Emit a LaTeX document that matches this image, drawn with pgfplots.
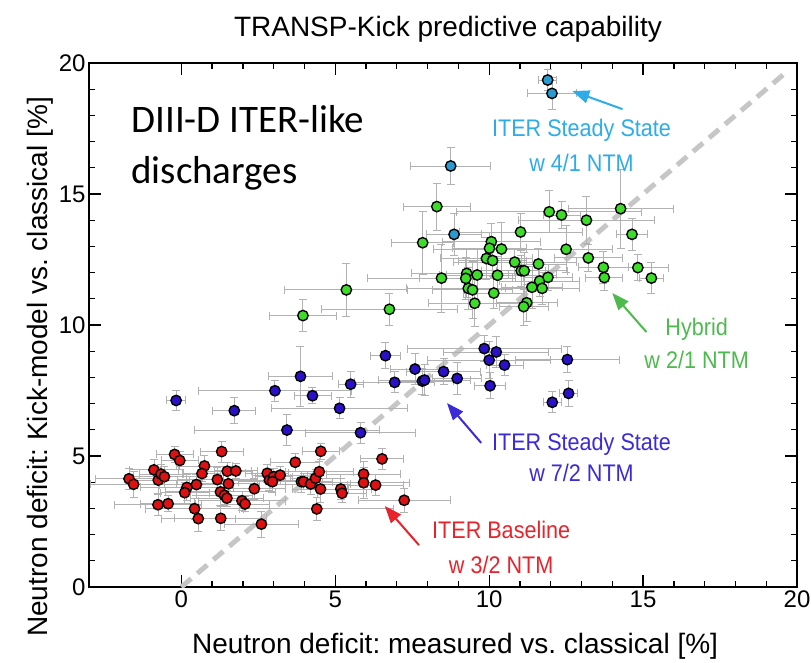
\documentclass[border=0pt]{standalone}
\usepackage{pgfplots}
\pgfplotsset{compat=1.18}
\usepackage{fontspec}
\setmainfont{Liberation Sans}
\newfontfamily\narrow[FakeStretch=0.9]{Liberation Sans}
\newfontfamily\calib{Carlito}
\usetikzlibrary{arrows.meta}

% point fills
\definecolor{ptred}{HTML}{DD1111}
\definecolor{ptblue}{HTML}{2A10C8}
\definecolor{ptgreen}{HTML}{3CDC28}
\definecolor{ptcyan}{HTML}{2A9BD0}
% annotation colours
\definecolor{txcyan}{HTML}{2EACE8}
\definecolor{txgreen}{HTML}{4DBA4D}
\definecolor{txblue}{HTML}{3A2AD8}
\definecolor{txred}{HTML}{E8232B}

\pgfplotsset{
  pts/.style={only marks, mark=*, mark size=5.2pt,
    mark options={draw=black, line width=1.4pt, fill=#1},
    error bars/.cd, x dir=both, x explicit, y dir=both, y explicit,
    error bar style={gray!60, line width=0.9pt},
    error mark options={rotate=90, gray!60, line width=0.9pt, mark size=4pt}},
}
\tikzset{annot/.style={font=\narrow\fontsize{24}{24}\selectfont, anchor=base}}

\pgfplotstableread{
x y ex ey
-1.70 4.13 1.1 0.4
-1.55 3.92 1.4 0.5
-0.89 4.47 0.8 0.4
-0.75 4.08 1.0 0.5
-0.66 4.31 0.7 0.35
-0.55 4.21 1.2 0.4
-0.76 3.14 1.4 0.4
-0.43 3.18 0.9 0.3
-0.22 5.06 0.6 0.3
-0.05 4.83 0.6 0.35
0.18 3.80 1.5 0.5
0.11 3.60 0.8 0.4
0.49 3.91 1.2 0.4
0.75 4.62 0.9 0.4
0.67 4.33 0.6 0.3
0.43 2.99 1.6 0.4
0.55 2.61 1.2 0.5
1.31 5.17 0.7 0.4
1.17 4.10 1.3 0.45
1.49 4.42 0.8 0.35
1.77 4.43 0.7 0.3
1.53 3.94 1.0 0.4
1.27 3.63 1.8 0.5
1.40 3.50 0.9 0.4
1.48 3.39 1.2 0.3
1.28 2.62 1.5 0.45
2.37 3.75 1.0 0.4
1.97 3.29 1.4 0.35
2.07 3.17 0.8 0.3
2.60 2.40 1.2 0.5
2.79 4.34 0.7 0.35
2.86 4.08 1.5 0.4
3.00 4.21 0.6 0.3
3.21 4.27 0.9 0.35
2.96 4.02 1.1 0.4
3.70 4.76 0.8 0.35
3.90 4.02 1.0 0.4
3.97 4.02 0.6 0.3
4.20 3.93 1.3 0.4
4.36 4.15 0.8 0.35
4.48 4.40 1.1 0.4
4.52 3.74 0.9 0.5
4.40 2.98 2.5 0.45
4.53 5.18 0.6 0.3
5.18 3.74 1.0 0.4
5.22 3.58 0.8 0.35
5.92 4.31 1.2 0.5
5.92 3.98 1.5 0.6
6.31 3.89 0.9 0.4
6.52 4.89 0.7 0.4
7.24 3.31 1.5 0.45
}\tblbase

\pgfplotstableread{
x y ex ey
-0.17 7.12 0.3 0.4
1.72 6.73 0.7 0.5
3.04 7.49 2.5 0.4
3.87 8.04 1.05 1.15
4.26 7.30 0.6 0.3
3.43 5.99 3.0 0.6
5.14 6.82 2.2 0.4
5.50 7.74 0.4 0.5
5.82 5.89 1.8 0.4
6.63 8.83 0.5 0.5
6.93 7.81 1.3 0.4
7.59 8.32 0.8 0.6
7.83 7.86 1.0 0.5
7.90 7.90 1.5 0.6
8.52 8.22 1.2 0.5
8.96 7.96 0.8 0.6
9.84 9.10 2.5 0.5
10.23 8.97 1.7 0.6
10.00 8.66 2.0 0.7
10.50 8.47 0.6 0.4
10.03 7.68 0.5 0.5
12.54 8.68 1.7 0.5
12.58 7.39 0.3 0.5
12.05 7.05 0.3 0.4
}\tblsteady

\pgfplotstableread{
x y ex ey
8.30 14.52 1.1 0.9
7.84 13.14 1.0 1.2
11.95 14.32 3.0 0.8
12.35 14.20 0.6 0.5
13.16 14.00 2.2 0.9
14.27 14.44 1.7 1.5
14.64 13.46 0.5 0.6
11.02 13.55 2.0 0.7
10.07 13.18 1.6 0.7
10.01 12.93 1.2 0.6
10.40 12.90 2.2 1.0
9.91 12.54 1.5 0.8
10.11 12.46 1.1 0.6
10.83 12.40 2.0 0.5
11.04 12.07 0.8 0.6
11.14 12.07 1.4 0.7
11.60 12.33 0.9 0.6
12.50 12.89 1.5 0.9
13.22 12.56 1.1 0.5
13.71 12.20 0.8 0.6
13.74 11.81 0.6 0.5
14.83 12.19 1.0 0.5
15.27 11.79 0.4 0.6
8.45 11.79 2.4 1.3
9.27 11.97 1.8 0.9
9.24 11.78 1.5 0.8
9.61 11.91 1.0 1.0
10.27 11.90 1.9 0.7
9.32 11.40 2.0 0.8
9.46 11.34 1.3 1.1
10.15 11.22 1.0 0.6
9.53 10.83 1.5 0.9
11.64 11.68 1.3 0.6
11.91 11.82 0.8 0.5
11.39 11.44 1.0 0.8
11.72 11.40 1.2 0.6
11.22 10.85 1.0 0.7
11.12 10.70 0.8 0.7
5.36 11.34 2.0 1.0
3.95 10.36 1.1 0.6
6.76 10.60 2.2 0.6
}\tblhybrid

\pgfplotstableread{
x y ex ey
11.90 19.35 0.3 0.4
12.04 18.84 0.8 0.6
8.75 16.07 1.3 0.7
8.86 13.46 0.9 0.8
}\tblfour

\begin{document}
\frenchspacing
\begin{tikzpicture}
\useasboundingbox (0,0) rectangle (811pt,-662pt);
\begin{axis}[
  at={(89pt,-587pt)}, anchor=south west,
  width=708pt, height=524pt, scale only axis,
  xmin=-3, xmax=20, ymin=0, ymax=20,
  xtick={0,5,...,20}, ytick={0,5,...,20},
  minor tick num=4,
  tick align=inside, xtick pos=both, ytick pos=both,
  major tick length=12pt, minor tick length=6pt,
  axis line style={line width=1.6pt},
  every tick/.style={black, line width=1.3pt},
  tick label style={font=\fontsize{24}{24}\selectfont},
  /pgf/number format/assume math mode=true,
  title={TRANSP-Kick predictive capability},
  title style={at={(axis description cs:0.507,1.040)}, anchor=base,
    font=\fontsize{28}{28}\selectfont},
  xlabel={Neutron deficit: measured vs. classical [\%]},
  xlabel style={at={(axis description cs:0.517,-0.126)}, anchor=base,
    font=\fontsize{28}{28}\selectfont},
  ylabel={Neutron deficit: Kick-model vs. classical [\%]},
  ylabel style={at={(axis description cs:-0.058,0.42)}, anchor=base,
    font=\fontsize{28}{28}\selectfont},
]
% one-to-one line
\addplot[gray!45, line width=5pt, dash pattern=on 13pt off 8pt]
  coordinates {(0,0) (19.7,19.7)};

\addplot[pts=ptred] table[x=x, y=y, x error=ex, y error=ey] {\tblbase};
\addplot[pts=ptblue] table[x=x, y=y, x error=ex, y error=ey] {\tblsteady};
\addplot[pts=ptgreen] table[x=x, y=y, x error=ex, y error=ey] {\tblhybrid};
\addplot[pts=ptcyan] table[x=x, y=y, x error=ex, y error=ey] {\tblfour};

% labels
\node[anchor=base west, inner sep=0, font=\calib\fontsize{39}{39}\selectfont]
  at (axis cs:-1.63,17.33) {DIII-D ITER-like};
\node[anchor=base west, inner sep=0, font=\calib\fontsize{39}{39}\selectfont]
  at (axis cs:-1.63,15.42) {discharges};

\node[annot, txcyan] at (axis cs:13.0,17.19) {ITER Steady State};
\node[annot, txcyan] at (axis cs:13.0,15.86) {w 4/1 NTM};
\draw[txcyan, line width=2pt, -{Triangle[length=17pt, width=13pt]}]
  (axis cs:14.33,18.24) -- (axis cs:12.70,18.93);

\node[annot, txgreen] at (axis cs:16.74,9.60) {Hybrid};
\node[annot, txgreen] at (axis cs:16.74,8.34) {w 2/1 NTM};
\draw[txgreen, line width=2pt, -{Triangle[length=17pt, width=13pt]}]
  (axis cs:15.11,9.73) -- (axis cs:14.0,11.22);

\node[annot, txblue] at (axis cs:13.0,5.21) {ITER Steady State};
\node[annot, txblue] at (axis cs:13.0,4.03) {w 7/2 NTM};
\draw[txblue, line width=2pt, -{Triangle[length=17pt, width=13pt]}]
  (axis cs:9.74,5.50) -- (axis cs:8.63,7.02);

\node[annot, txred] at (axis cs:10.39,1.85) {ITER Baseline};
\node[annot, txred] at (axis cs:10.39,0.52) {w 3/2 NTM};
\draw[txred, line width=2pt, -{Triangle[length=17pt, width=13pt]}]
  (axis cs:7.72,1.60) -- (axis cs:6.61,3.09);
\end{axis}
\end{tikzpicture}
\end{document}
